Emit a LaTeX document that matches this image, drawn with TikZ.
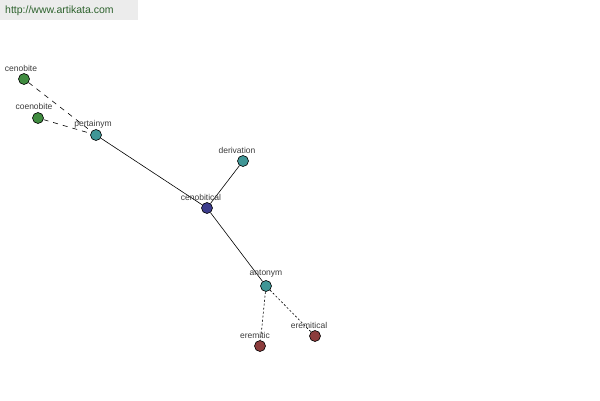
\documentclass[tikz,border=0pt]{standalone}
\usepackage{fontspec}
\setmainfont{Liberation Sans}
\definecolor{wngreen}{RGB}{64,140,64}
\definecolor{wnteal}{RGB}{64,150,150}
\definecolor{wnblue}{RGB}{60,60,140}
\definecolor{wnred}{RGB}{140,60,60}
\definecolor{wnbar}{RGB}{236,236,236}
\definecolor{wntext}{RGB}{60,60,60}
\tikzset{
  word/.style={circle, draw=black, line width=0.6pt, inner sep=0pt, minimum size=11pt},
  lbl/.style={font=\fontsize{8.5}{9}\selectfont, text=wntext, inner sep=0pt},
  rel/.style={line width=0.6pt},
  relx/.style={line width=0.6pt, dash pattern=on 5pt off 5pt},
  rely/.style={line width=0.6pt, dash pattern=on 2pt off 2pt},
}
\begin{document}
\begin{tikzpicture}[x=1pt, y=-1pt]
  \useasboundingbox (0,0) rectangle (600,400);
  \fill[white] (0,0) rectangle (600,400);
  \fill[wnbar] (0,0) rectangle (138,20);
  \node[font=\fontsize{10.5}{11}\selectfont, text=wngreen!70!black, anchor=west, inner sep=0pt] (site) at (5,11) {http://www.artikata.com};

  \node[word, fill=wngreen] (cenobite) at (24,79) {};
  \node[word, fill=wngreen] (coenobite) at (38,118) {};
  \node[word, fill=wnteal] (pertainym) at (96,135) {};
  \node[word, fill=wnteal] (derivation) at (243,161) {};
  \node[word, fill=wnblue] (cenobitical) at (207,208) {};
  \node[word, fill=wnteal] (antonym) at (266,286) {};
  \node[word, fill=wnred] (eremitic) at (260,346) {};
  \node[word, fill=wnred] (eremitical) at (315,336) {};

  % edges
  \draw[relx] (cenobite) -- (pertainym);
  \draw[relx] (coenobite) -- (pertainym);
  \draw[rel] (pertainym) -- (cenobitical);
  \draw[rel] (cenobitical) -- (derivation);
  \draw[rel] (cenobitical) -- (antonym);
  \draw[rely] (antonym) -- (eremitic);
  \draw[rely] (antonym) -- (eremitical);

  % labels
  \node[lbl] (lcenobite) at (21,68) {cenobite};
  \node[lbl] (lcoenobite) at (34,106) {coenobite};
  \node[lbl] (lpertainym) at (93,124) {pertainym};
  \node[lbl] (lderivation) at (237,150) {derivation};
  \node[lbl] (lcenobitical) at (201,197) {cenobitical};
  \node[lbl] (lantonym) at (266,274) {antonym};
  \node[lbl] (leremitic) at (255,335) {eremitic};
  \node[lbl] (leremitical) at (309,325) {eremitical};
\end{tikzpicture}
\end{document}
